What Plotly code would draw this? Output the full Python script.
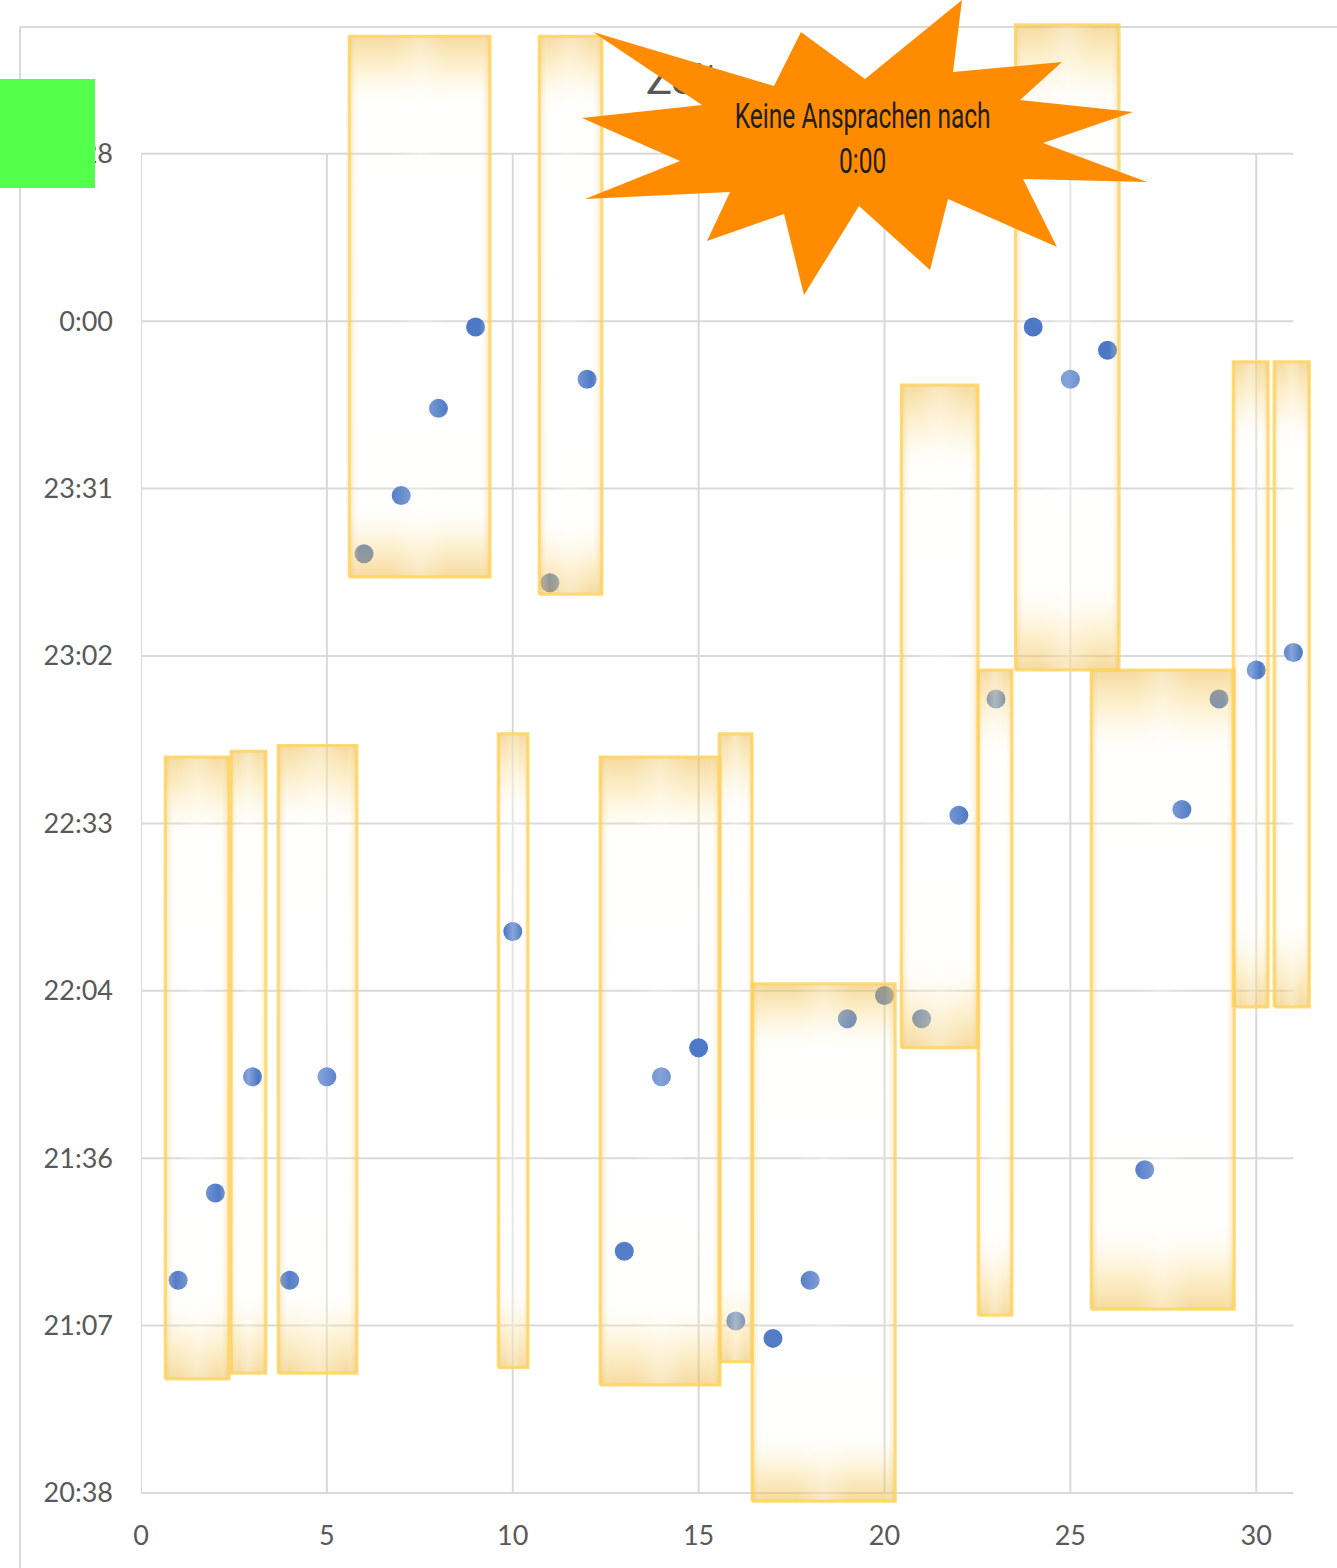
import plotly.graph_objects as go

# Daily contact times (day of month -> clock time)
days = list(range(1, 32))
times = ["21:15", "21:30", "21:50", "21:15", "21:50", "23:20", "23:30", "23:45", "23:59", "22:15",
         "23:15", "23:50", "21:20", "21:50", "21:55", "21:08", "21:05", "21:15", "22:00", "22:04",
         "22:00", "22:35", "22:55", "23:59", "23:50", "23:55", "21:34", "22:36", "22:55", "23:00",
         "23:03"]

# Highlighted periods: day span and time span
box_day_from = [0.65, 2.42, 3.69, 5.60, 10.71, 9.61, 12.35, 15.55, 16.44, 20.45, 22.52, 23.52, 25.56, 29.38, 30.48]
box_day_to = [2.37, 3.36, 5.81, 9.39, 12.40, 10.41, 15.58, 16.44, 20.29, 22.52, 23.43, 26.31, 29.41, 30.32, 31.43]
box_time_from = ["20:58", "20:59", "20:59", "23:16", "23:13", "21:00", "20:57", "21:01", "20:37",
                 "21:55", "21:09", "23:00", "21:10", "22:02", "22:02"]
box_time_to = ["22:45", "22:46", "22:47", "0:49", "0:49", "22:49", "22:45", "22:49", "22:06",
               "23:49", "23:00", "0:51", "23:00", "23:53", "23:53"]

# Axis ticks (time axis in fractions of a day, past midnight > 1)
y_tick_vals = [0.86, 0.88, 0.90, 0.92, 0.94, 0.96, 0.98, 1.00, 1.02]
y_tick_text = ["20:38", "21:07", "21:36", "22:04", "22:33", "23:02", "23:31", "0:00", "0:28"]
x_tick_vals = [0, 5, 10, 15, 20, 25, 30]
x_max_day = 31

title_text = "Zeit"
callout_text = "Keine Ansprachen nach<br>0:00"


def to_day(t):
    h, m = map(int, t.split(":"))
    v = h / 24 + m / 1440
    return v + 1 if h < 12 else v


W, H = 1337, 1568
ML, MR, MT, MB = 141, 25, 12, 62
X_RANGE = [0, 31.5]
Y_RANGE = [0.858447, 1.036937]

GRID = "#d9d9d9"
TICK_FONT = dict(family="Lato, Carlito, 'Open Sans', sans-serif", size=27, color="#595959")

fig = go.Figure()

# data points
fig.add_trace(go.Scatter(
    x=days, y=[to_day(t) for t in times], mode="markers",
    marker=dict(color="#4472C4", size=19, line=dict(width=0)),
    hoverinfo="skip", showlegend=False,
))

# glowing highlight boxes drawn over the points
GOLD_EDGE = "rgba(236,186,76,0.54)"
GOLD_SIDE = "rgba(236,186,76,0.42)"
CLEAR = "rgba(255,255,255,0)"
plot_w = W - ML - MR
px_per_day_x = plot_w / (X_RANGE[1] - X_RANGE[0])
for d0, d1, t0, t1 in zip(box_day_from, box_day_to, box_time_from, box_time_to):
    y0, y1 = to_day(t0), to_day(t1)
    xs = [d0, d1, d1, d0, d0]
    ys = [y0, y0, y1, y1, y0]
    # top and bottom golden bands
    fig.add_trace(go.Scatter(
        x=xs, y=ys, mode="none", fill="toself",
        fillgradient=dict(type="vertical", colorscale=[
            [0.0, GOLD_EDGE], [0.05, "rgba(248,210,112,0.38)"], [0.13, "rgba(255,250,235,0.10)"],
            [0.5, "rgba(255,255,255,0.04)"],
            [0.87, "rgba(255,250,235,0.10)"], [0.95, "rgba(248,210,112,0.38)"], [1.0, GOLD_EDGE]]),
        hoverinfo="skip", showlegend=False,
    ))
    # side glow, light centre column and border
    wpx = (d1 - d0) * px_per_day_x
    s_edge = min(10 / wpx, 0.2)
    s_c = max(0.5 - 28 / wpx, s_edge + 0.01)
    fig.add_trace(go.Scatter(
        x=xs, y=ys, mode="lines", fill="toself",
        line=dict(color="rgba(255,212,95,0.85)", width=3),
        fillgradient=dict(type="horizontal", colorscale=[
            [0.0, GOLD_SIDE], [s_edge, CLEAR], [s_c, CLEAR], [0.5, "rgba(255,255,255,0.32)"],
            [1 - s_c, CLEAR], [1 - s_edge, CLEAR], [1.0, GOLD_SIDE]]),
        hoverinfo="skip", showlegend=False,
    ))

# chart title (partly covered by the callout)
fig.add_trace(go.Scatter(
    x=[13.59], y=[1.02846], mode="text", text=[title_text], textposition="middle right",
    textfont=dict(family="Lato, Carlito, sans-serif", size=43, color="#595959"),
    hoverinfo="skip", showlegend=False,
))

shapes = []
# gridlines
for v in y_tick_vals:
    shapes.append(dict(type="line", xref="x", yref="y", x0=0, x1=x_max_day, y0=v, y1=v,
                       line=dict(color=GRID, width=2), layer="below"))
for v in x_tick_vals:
    shapes.append(dict(type="line", xref="x", yref="y", x0=v, x1=v, y0=y_tick_vals[0], y1=y_tick_vals[-1],
                       line=dict(color=GRID, width=2), layer="below"))


def px_x(p):
    return (p - ML) / plot_w


def px_y(p):
    return (H - MB - p) / (H - MT - MB)


# chart area frame
shapes.append(dict(type="line", xref="paper", yref="paper", x0=px_x(20), x1=px_x(W), y0=px_y(27), y1=px_y(27),
                   line=dict(color=GRID, width=2), layer="below"))
shapes.append(dict(type="line", xref="paper", yref="paper", x0=px_x(20), x1=px_x(20), y0=px_y(27), y1=px_y(H),
                   line=dict(color=GRID, width=2), layer="below"))

# explosion callout
star_px = [(962, 0), (953, 72), (1062, 62), (1020, 100), (1133, 112), (1043, 143), (1147, 182),
           (1023, 179), (1057, 247), (948, 199), (930, 270), (859, 206), (804, 295), (784, 214),
           (707, 241), (730, 192), (585, 199), (680, 161), (582, 118), (702, 105), (593, 32),
           (774, 86), (801, 32), (865, 79)]
path = "M " + " L ".join(f"{px_x(a):.5f},{px_y(b):.5f}" for a, b in star_px) + " Z"
shapes.append(dict(type="path", xref="paper", yref="paper", path=path,
                   fillcolor="#FF8C00", line=dict(width=0), layer="above"))

# green marker block at the top left
shapes.append(dict(type="rect", xref="paper", yref="paper", x0=px_x(0), x1=px_x(95), y0=px_y(188), y1=px_y(79),
                   fillcolor="#53FF4B", line=dict(width=0), layer="above"))

fig.update_layout(
    width=W, height=H,
    margin=dict(l=ML, r=MR, t=MT, b=MB, pad=0),
    paper_bgcolor="white", plot_bgcolor="white",
    shapes=shapes,
    showlegend=False,
    annotations=[dict(
        xref="paper", yref="paper", x=px_x(862), y=px_y(140), text=callout_text, showarrow=False,
        font=dict(family="Roboto, sans-serif", size=35, color="#1e1e1e"),
        align="center", xanchor="center", yanchor="middle",
    )],
    xaxis=dict(range=X_RANGE, showgrid=False, zeroline=False, showline=False,
               tickvals=x_tick_vals, ticktext=[str(v) for v in x_tick_vals],
               tickfont=TICK_FONT, ticklabelstandoff=11, fixedrange=True),
    yaxis=dict(range=Y_RANGE, showgrid=False, zeroline=False, showline=False,
               tickvals=y_tick_vals, ticktext=y_tick_text,
               tickfont=TICK_FONT, ticklabelstandoff=27, fixedrange=True),
)

# narrow (condensed) lettering for the callout text
CALLOUT_WIDTH_PX = 256
post_js = """
var gd = document.getElementById('{plot_id}');
gd.querySelectorAll('.annotation-text').forEach(function (t) {
  var bb = t.getBBox();
  var s = %d / bb.width;
  var cx = bb.x + bb.width / 2;
  t.setAttribute('transform', 'translate(' + cx + ',0) scale(' + s + ',1) translate(' + (-cx) + ',0)');
});
""" % CALLOUT_WIDTH_PX

fig.write_html("out.html", post_script=post_js)
